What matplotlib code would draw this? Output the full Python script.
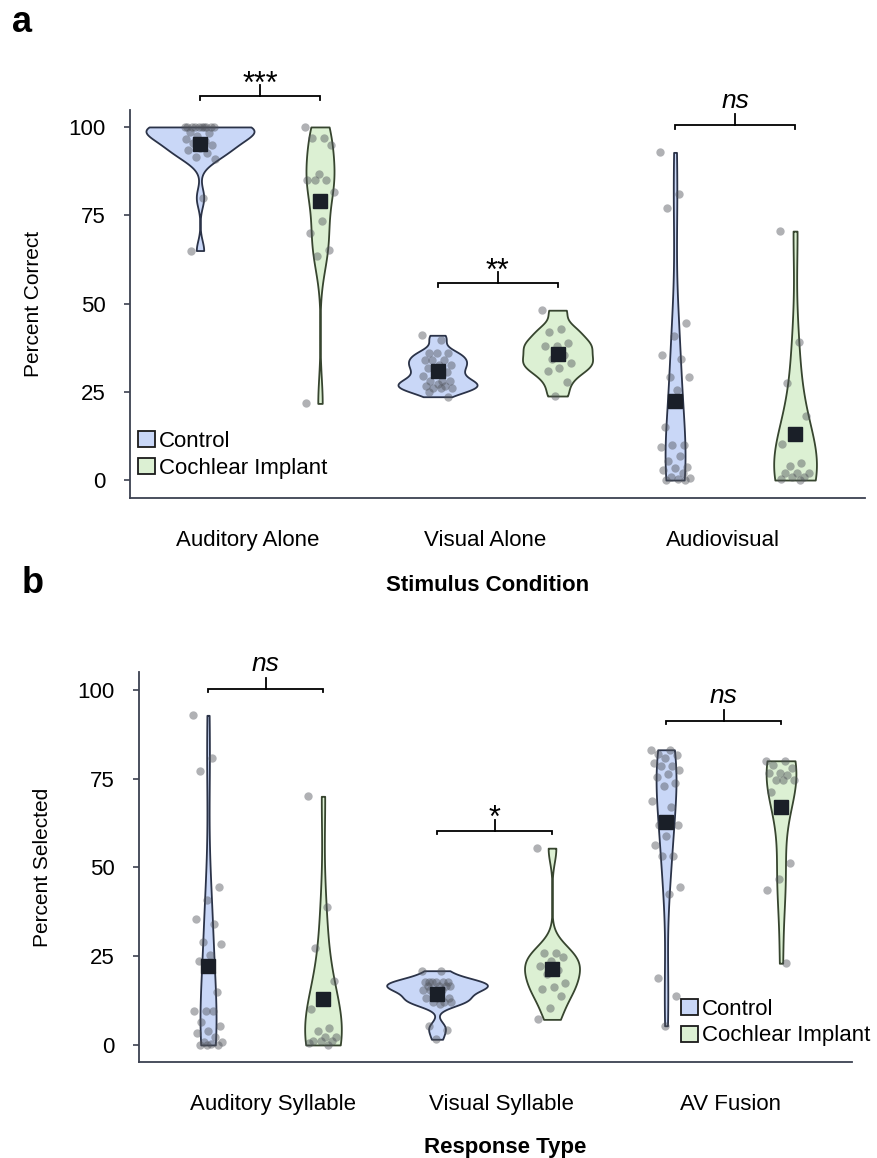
import matplotlib
matplotlib.use("Agg")
import matplotlib.pyplot as plt
from matplotlib.patches import Patch
import numpy as np

plt.rcParams['font.family'] = ['Liberation Sans', 'DejaVu Sans']

# ---- panel a : percent correct per stimulus condition ----
conditions = ['Auditory Alone', 'Visual Alone', 'Audiovisual']

aa_ctrl = [100, 100, 100, 100, 100, 100, 100, 100, 100, 100, 98.5, 98.3, 97.5, 96.5,
           96.0, 95.5, 94.8, 94.0, 93.4, 92.6, 91.5, 91.0, 80.0, 65.0]
aa_ci = [100, 97.0, 97.0, 94.9, 86.6, 85.1, 85.1, 85.1, 81.6, 73.4, 70.0, 65.1, 63.4, 21.7]
va_ctrl = [41.0, 39.6, 36.0, 36.0, 36.0, 34.0, 34.0, 34.0, 32.6, 32.6, 31.6, 30.7, 30.7,
           29.4, 28.1, 28.1, 28.1, 27.2, 26.6, 26.6, 26.0, 26.0, 26.0, 25.0, 23.6]
va_ci = [48.1, 42.9, 41.8, 38.9, 38.0, 38.0, 35.4, 34.2, 33.2, 31.8, 30.9, 27.8, 23.8]
av_ctrl = [92.8, 80.9, 77.1, 44.5, 40.8, 35.4, 34.2, 29.1, 29.1, 25.5, 15.1, 9.9, 9.9,
           9.4, 6.8, 5.4, 3.6, 3.3, 2.8, 1.9, 0.8, 0.5, 0.3, 0.0, 0.0]
av_ci = [70.5, 39.2, 27.4, 18.1, 12.5, 10.2, 4.9, 4.0, 1.9, 1.9, 1.9, 0.8, 0.8, 0.3, 0.0]

# ---- panel b : percent selected per response type ----
responses = ['Auditory Syllable', 'Visual Syllable', 'AV Fusion']

as_ctrl = [92.8, 80.8, 77.0, 44.4, 40.8, 35.4, 34.1, 29.1, 28.4, 25.4, 23.7, 15.0, 9.6,
           9.6, 9.6, 6.6, 5.4, 3.8, 3.3, 2.2, 0.9, 0.9, 0.4, 0.0, 0.0, 0.0]
as_ci = [70.0, 38.8, 27.2, 18.0, 12.2, 10.1, 4.7, 3.9, 2.2, 2.2, 1.2, 1.2, 1.2, 0.5, 0.0]
vs_ctrl = [20.9, 20.9, 17.8, 17.8, 17.8, 17.8, 17.8, 17.8, 16.6, 16.6, 16.6, 16.6, 15.5,
           15.5, 15.5, 15.5, 13.2, 13.2, 13.2, 12.2, 12.2, 12.2, 11.6, 5.4, 4.2, 1.6]
vs_ci = [55.4, 25.8, 25.8, 24.9, 23.7, 22.1, 21.1, 20.0, 17.4, 16.4, 15.8, 13.9, 10.3, 7.2]
avf_ctrl = [83.1, 83.1, 82.0, 81.7, 80.8, 79.4, 78.4, 78.4, 77.3, 76.4, 75.4, 73.7, 72.8,
            68.8, 67.0, 62.0, 62.0, 58.7, 56.2, 53.3, 53.3, 44.4, 42.6, 18.8, 13.8, 5.4]
avf_ci = [80.0, 80.0, 78.9, 78.0, 76.7, 76.7, 76.1, 74.5, 74.5, 74.5, 71.1, 51.2, 46.7,
          43.6, 23.0]

groups = ['Control', 'Cochlear Implant']
sig_a = ['***', '**', 'ns']
sig_b = ['ns', '*', 'ns']

CTRL_FACE, CTRL_EDGE = '#c9d7f7', '#2b3348'
CI_FACE, CI_EDGE = '#dcf0d3', '#37452f'
AXIS_COLOR = '#3c4150'
FS = 16


def draw_violins(ax, ctrl_sets, ci_sets, widths_ctrl, widths_ci, bws_ctrl, bws_ci,
                 offset=0.25):
    for i in range(len(ctrl_sets)):
        pairs = [(ctrl_sets[i], i + 1 - offset, widths_ctrl[i], bws_ctrl[i], CTRL_FACE, CTRL_EDGE),
                 (ci_sets[i], i + 1 + offset, widths_ci[i], bws_ci[i], CI_FACE, CI_EDGE)]
        for data, pos, w, bw, face, edge in pairs:
            data = np.asarray(data, dtype=float)
            vp = ax.violinplot([data], positions=[pos], widths=w, bw_method=bw,
                               showextrema=False, points=300)
            body = vp['bodies'][0]
            body.set_facecolor(face)
            body.set_edgecolor(edge)
            body.set_alpha(1)
            body.set_linewidth(1.3)
            body.set_zorder(1)
            # deterministic jitter for the raw points
            jit = ((np.arange(len(data)) * 0.618034) % 1 - 0.5) * 0.13
            ax.scatter(pos + jit, data, s=36, color='#50535a', alpha=0.45,
                       lw=0, zorder=3)
            ax.plot(pos, data.mean(), 's', ms=10, color='#1a1f28', zorder=4)


def bracket(ax, x1, x2, y, label):
    italic = label == 'ns'
    ax.plot([x1, x1, x2, x2], [y - 1.0, y, y, y - 1.0], color='black', lw=1.3,
            clip_on=False, solid_joinstyle='miter')
    xm = (x1 + x2) / 2
    ax.plot([xm, xm], [y, y + 3.1], color='black', lw=1.3, clip_on=False)
    ax.annotate(label, (xm, y), xytext=(0, 12.5 if italic else 2.5),
                textcoords='offset points', ha='center', va='baseline',
                fontsize=19 if italic else 22,
                style='italic' if italic else 'normal', annotation_clip=False)


def style_axes(ax, xlim, ylim, labels, label_shift, ylabel, xlabel, ylab_x, xlab_xy):
    ax.set_xlim(*xlim)
    ax.set_ylim(*ylim)
    ax.set_yticks([0, 25, 50, 75, 100])
    ax.set_xticks(np.arange(1, 4) + label_shift)
    ax.set_xticklabels(labels)
    ax.tick_params(axis='x', length=0, pad=23, labelsize=FS)
    ax.tick_params(axis='y', length=4.5, width=1.2, color=AXIS_COLOR, pad=13,
                   labelsize=FS)
    for s in ['top', 'right']:
        ax.spines[s].set_visible(False)
    for s in ['left', 'bottom']:
        ax.spines[s].set_color(AXIS_COLOR)
        ax.spines[s].set_linewidth(1.3)
    ax.set_ylabel(ylabel, fontsize=15)
    ax.yaxis.set_label_coords(ylab_x, 0.5)
    ax.set_xlabel(xlabel, fontsize=FS, fontweight='bold')
    ax.xaxis.set_label_coords(*xlab_xy)


fig = plt.figure(figsize=(8.77, 11.58), dpi=100)
ax_a = fig.add_axes([0.1482, 0.5699, 0.8381, 0.3351])
ax_b = fig.add_axes([0.1585, 0.0829, 0.8130, 0.3368])

# panel a
draw_violins(ax_a, [aa_ctrl, va_ctrl, av_ctrl], [aa_ci, va_ci, av_ci],
             [0.455, 0.333, 0.084], [0.118, 0.295, 0.18],
             [0.35, 0.35, 'scott'], [0.35, 0.35, 'scott'], offset=0.2526)
style_axes(ax_a, (0.4526, 3.547), (-5.1, 104.8), conditions, -0.053,
           'Percent Correct', 'Stimulus Condition', -0.118, (0.486, -0.198))
for i, (lab, h) in enumerate(zip(sig_a, [108.7, 55.8, 100.5])):
    bracket(ax_a, i + 1 - 0.2526, i + 1 + 0.2526, h, lab)

# panel b
draw_violins(ax_b, [as_ctrl, vs_ctrl, avf_ctrl], [as_ci, vs_ci, avf_ci],
             [0.07, 0.44, 0.087], [0.16, 0.24, 0.13],
             ['scott', 0.35, 'scott'], ['scott', 0.35, 'scott'], offset=0.251)
style_axes(ax_b, (0.4476, 3.561), (-4.8, 105), responses, 0.032,
           'Percent Selected', 'Response Type', -0.122, (0.513, -0.192))
for i, (lab, h) in enumerate(zip(sig_b, [100.3, 60.3, 91.3])):
    bracket(ax_b, i + 1 - 0.251, i + 1 + 0.251, h, lab)

handles = [Patch(facecolor=CTRL_FACE, edgecolor='#1a1a1a', lw=1.3, label=groups[0]),
           Patch(facecolor=CI_FACE, edgecolor='#1a1a1a', lw=1.3, label=groups[1])]
leg_kw = dict(frameon=False, fontsize=FS, handlelength=0.75, handleheight=0.75,
              handletextpad=0.2, labelspacing=0.25, borderpad=0, borderaxespad=0,
              loc='lower left')
ax_a.legend(handles=handles, bbox_to_anchor=(0.011, 0.05), **leg_kw)
ax_b.legend(handles=handles, bbox_to_anchor=(0.76, 0.04), **leg_kw)

fig.text(12 / 877, 1 - 32 / 1158, 'a', fontsize=26, fontweight='bold', va='baseline')
fig.text(22 / 877, 1 - 593 / 1158, 'b', fontsize=26, fontweight='bold', va='baseline')

fig.savefig('out.png', dpi=100)
